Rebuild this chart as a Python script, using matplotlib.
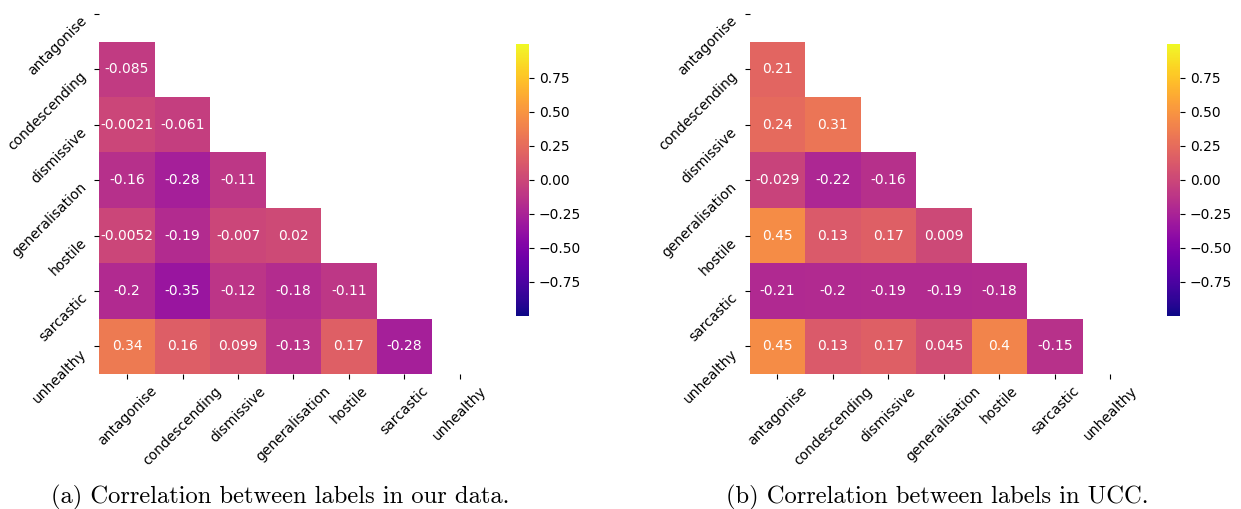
import numpy as np
import matplotlib
matplotlib.use("Agg")
import matplotlib.pyplot as plt
import seaborn as sns

labels = ["antagonise", "condescending", "dismissive", "generalisation",
          "hostile", "sarcastic", "unhealthy"]

# lower triangle rows (row i has i values)
ours_rows = [
    [-0.085],
    [-0.0021, -0.061],
    [-0.16, -0.28, -0.11],
    [-0.0052, -0.19, -0.007, 0.02],
    [-0.2, -0.35, -0.12, -0.18, -0.11],
    [0.34, 0.16, 0.099, -0.13, 0.17, -0.28],
]
ucc_rows = [
    [0.21],
    [0.24, 0.31],
    [-0.029, -0.22, -0.16],
    [0.45, 0.13, 0.17, 0.009],
    [-0.21, -0.2, -0.19, -0.19, -0.18],
    [0.45, 0.13, 0.17, 0.045, 0.4, -0.15],
]
cbar_ticks = [-0.75, -0.5, -0.25, 0.0, 0.25, 0.5, 0.75]

captions = ["(a) Correlation between labels in our data.",
            "(b) Correlation between labels in UCC."]


def build_corr(rows):
    n = len(rows) + 1
    m = np.eye(n)
    for i, r in enumerate(rows):
        for j, v in enumerate(r):
            m[i + 1, j] = v
            m[j, i + 1] = v
    return m


def draw(ax, cax, rows):
    corr = build_corr(rows)
    mask = np.triu(np.ones_like(corr, dtype=bool))
    sns.heatmap(corr, mask=mask, cmap="plasma", vmin=-1, vmax=1, annot=True,
                fmt=".2g", annot_kws={"fontsize": 10}, ax=ax, cbar_ax=cax,
                xticklabels=labels, yticklabels=labels,
                cbar_kws={"ticks": cbar_ticks})
    ax.set_xticklabels(labels, rotation=45, ha="center", fontsize=10)
    ax.set_yticklabels(labels, rotation=45, ha="right", va="top", fontsize=10)
    cax.tick_params(labelsize=10)


fig = plt.figure(figsize=(12.41, 5.09), dpi=100)
ax1 = fig.add_axes([0.080, 0.265, 0.313, 0.762])
cax1 = fig.add_axes([0.4156, 0.380, 0.0107, 0.534])
ax2 = fig.add_axes([0.604, 0.265, 0.313, 0.762])
cax2 = fig.add_axes([0.9401, 0.380, 0.0107, 0.534])

draw(ax1, cax1, ours_rows)
draw(ax2, cax2, ucc_rows)

fig.text(0.2256, 0.0118, captions[0], fontsize=17.7, family="cmr10",
         ha="center", va="baseline")
fig.text(0.755, 0.0118, captions[1], fontsize=17.7, family="cmr10",
         ha="center", va="baseline")

fig.savefig("out.png", dpi=100)
